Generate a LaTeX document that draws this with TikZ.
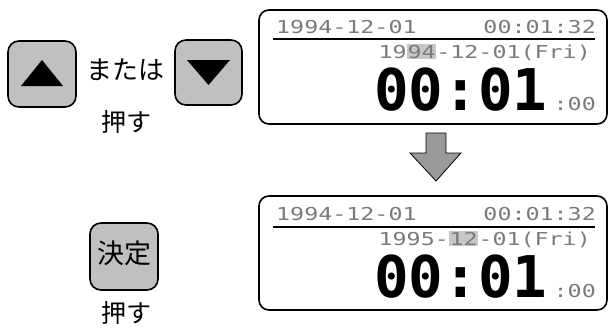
\documentclass[tikz,border=0pt]{standalone}
\usepackage{fontspec}
\usepackage{graphicx}
\setmainfont{DejaVu Sans}
\newfontfamily\jpfont{Noto Sans CJK JP}
\newfontfamily\lcdfont{DejaVu Sans Mono}
\definecolor{btngray}{HTML}{C0C0C0}
\definecolor{arrowgray}{HTML}{9A9A9A}
\definecolor{lcdgray}{HTML}{7A7A7A}
\newcommand\sx[1]{\scalebox{1.31}[1]{#1}}
\newcommand\hl[1]{{\setlength{\fboxsep}{0.6pt}\colorbox{black!22}{#1}}}
\begin{document}
\begin{tikzpicture}[x=1pt,y=-1pt,
  btn/.style={draw=black, line width=1.6pt, fill=btngray, rounded corners=11pt, inner sep=0pt},
  lcd/.style={draw=black, line width=1.6pt, rounded corners=10pt, inner sep=0pt},
  small/.style={inner sep=0pt, text=lcdgray, font=\lcdfont\fontsize{17.8}{18}\selectfont},
  big/.style={inner sep=0pt, text=black, font=\lcdfont\bfseries\fontsize{57.5}{58}\selectfont},
  jp/.style={inner sep=0pt, font=\jpfont\fontsize{26}{26}\selectfont},
  jpsmall/.style={inner sep=0pt, font=\jpfont\fontsize{25}{25}\selectfont}]
\useasboundingbox (0,0) rectangle (611,327);
% buttons
\node[btn, minimum width=68pt, minimum height=66pt] (up) at (42,74) {};
\fill (21,86) -- (63,86) -- (42,60) -- cycle;
\node[jp] (or) at (125,70) {または};
\node[btn, minimum width=67pt, minimum height=65pt] (down) at (208.5,72.5) {};
\fill (187,60) -- (230,60) -- (208.5,85) -- cycle;
\node[jpsmall] (push1) at (126,122) {押す};
\node[btn, minimum width=68pt, minimum height=67pt] (ok) at (124,256.5) {};
\node[jp, font=\jpfont\fontsize{27}{27}\selectfont] (oktext) at (124,253) {決定};
\node[jpsmall] (push2) at (126,313) {押す};
% LCD 1
\node[lcd, minimum width=348pt, minimum height=114pt] (lcd1) at (433,67) {};
\node[small, anchor=base west] (d1) at (276,33) {\sx{1994-12-01}};
\node[small, anchor=base east] (t1) at (596,33) {\sx{00:01:32}};
\draw[line width=2pt] (273,39) -- (595,39);
\node[small, anchor=base east] (e1) at (591,58) {\sx{19\hl{94}-12-01(Fri)}};
\node[big, anchor=base west] (b1) at (374,110) {00:01};
\node[small, anchor=base east] (s1) at (596,110) {\sx{:00}};
% arrow
\draw[fill=arrowgray, line width=0.8pt] (426,133) -- (446,133) -- (446,153) -- (461,153) -- (436,181) -- (410,153) -- (426,153) -- cycle;
% LCD 2
\node[lcd, minimum width=348pt, minimum height=114pt] (lcd2) at (433,253) {};
\node[small, anchor=base west] (d2) at (276,220) {\sx{1994-12-01}};
\node[small, anchor=base east] (t2) at (596,220) {\sx{00:01:32}};
\draw[line width=2pt] (273,227) -- (595,227);
\node[small, anchor=base east] (e2) at (591,245) {\sx{1995-\hl{12}-01(Fri)}};
\node[big, anchor=base west] (b2) at (374,297) {00:01};
\node[small, anchor=base east] (s2) at (596,297) {\sx{:00}};
\end{tikzpicture}
\end{document}
